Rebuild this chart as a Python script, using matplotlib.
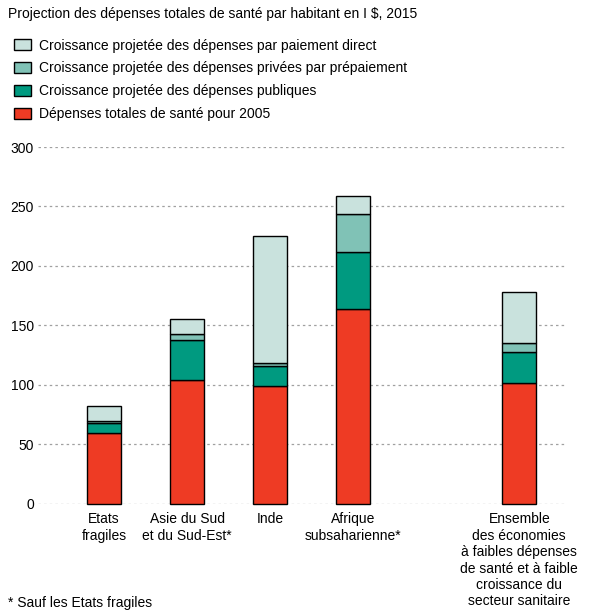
import matplotlib
matplotlib.use("Agg")
import matplotlib.pyplot as plt
import numpy as np

plt.rcParams['font.family'] = ['Liberation Sans', 'DejaVu Sans']

categories = ["Etats\nfragiles", "Asie du Sud\net du Sud-Est*", "Inde", "Afrique\nsubsaharienne*",
              "Ensemble\ndes économies\nà faibles dépenses\nde santé et à faible\ncroissance du\nsecteur sanitaire"]
positions = [0, 1, 2, 3, 5]
base_2005 = [60, 104, 99, 163.5, 102]
public_growth = [8, 34, 17, 48.5, 25.5]
prepaid_growth = [2, 5, 2.5, 31.5, 7.5]
direct_growth = [12, 12.5, 107, 15, 43]

series_labels = ["Dépenses totales de santé pour 2005",
                 "Croissance projetée des dépenses publiques",
                 "Croissance projetée des dépenses privées par prépaiement",
                 "Croissance projetée des dépenses par paiement direct"]
colors = ["#EE3B24", "#009A80", "#80C2B6", "#C9E2DD"]
yticks = [0, 50, 100, 150, 200, 250, 300]

fig = plt.figure(figsize=(5.9, 6.12), dpi=100)
ax = fig.add_axes([0.0644, 0.1765, 0.8932, 0.5833])

series = [base_2005, public_growth, prepaid_growth, direct_growth]
bottom = np.zeros(len(positions))
for vals, col, lab in zip(series, colors, series_labels):
    ax.bar(positions, vals, bottom=bottom, width=0.41, color=col, edgecolor="black",
           linewidth=1.0, label=lab, zorder=3, clip_on=False)
    bottom += np.array(vals)

ax.set_ylim(0, 300)
ax.set_xlim(-0.795, 5.55)
ax.set_yticks(yticks)
ax.set_yticklabels([str(t) for t in yticks], fontsize=10)
ax.set_xticks(positions)
ax.set_xticklabels(categories, fontsize=10, linespacing=1.22)
ax.tick_params(axis='both', length=0, pad=3)
ax.tick_params(axis='x', pad=6)
for s in ax.spines.values():
    s.set_visible(False)
ax.yaxis.grid(True, linestyle=(0, (2, 2.5)), color="#a0a0a0", linewidth=0.9, zorder=0)
ax.set_axisbelow(True)

fig.text(0.0136, 0.977, "Projection des dépenses totales de santé par habitant en I $, 2015",
         fontsize=10, va='center', ha='left')

# legend (reversed order)
handles, labels = ax.get_legend_handles_labels()
leg = fig.legend(handles[::-1], labels[::-1], loc='upper left', bbox_to_anchor=(0.024, 0.937),
                 frameon=False, fontsize=10, handlelength=1.22, handleheight=0.85,
                 handletextpad=0.58, labelspacing=0.64, borderaxespad=0, borderpad=0)

fig.text(0.0136, 0.0145, "* Sauf les Etats fragiles", fontsize=10, va='center', ha='left')

fig.savefig("out.png", dpi=100)
